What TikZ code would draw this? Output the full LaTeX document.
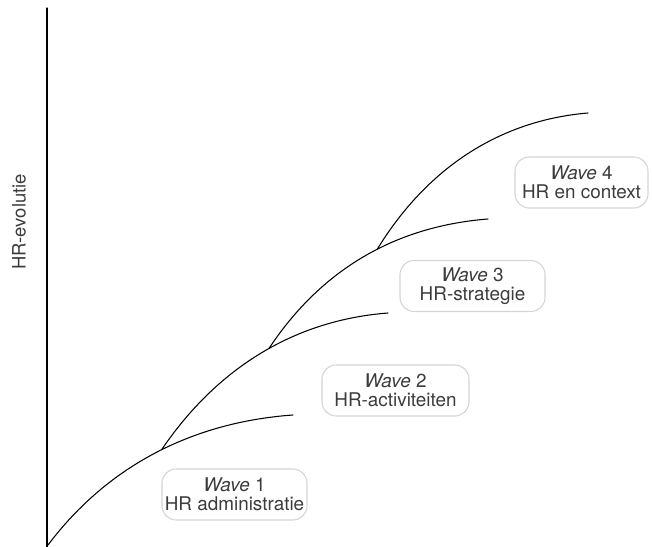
\documentclass[tikz,border=0pt]{standalone}
\usepackage{fontspec}
\setmainfont{TeX Gyre Heros}
\usetikzlibrary{positioning}
\definecolor{boxgray}{RGB}{212, 212, 212}
\definecolor{textgray}{RGB}{60, 60, 60}

\begin{document}
\begin{tikzpicture}[
    x = 0.02cm, y = 0.02cm,
    curve/.style = {line width = 0.6pt, line cap = round},
    wave/.style = {draw = boxgray, line width = 0.6pt, rounded corners = 8pt, align = center, text = textgray, inner xsep = 1pt, minimum width = 2.9cm, minimum height = 1.02cm, font = \fontsize{10.75}{10.6}\selectfont},
]
\useasboundingbox (0,0) rectangle (652,547);

% axis
\coordinate (bottom) at (47,0);
\coordinate (top) at (47,539);
\draw[curve] (bottom) -- (top);
\node[rotate = 90, text = textgray, font = \fontsize{10.5}{11.5}\selectfont] (label) at (19,325) {HR-evolutie};

% the four waves
\coordinate (s1) at (48,2);
\coordinate (e1) at (293,132);
\coordinate (e2) at (388,234);
\coordinate (e3) at (488,328);
\coordinate (e4) at (588,434);

\draw[curve] (s1) .. controls +(61,81) and +(-98,-7) .. coordinate[pos=0.52] (s2) (e1);
\draw[curve] (s2) .. controls +(57,84) and +(-91,-7) .. coordinate[pos=0.53] (s3) (e2);
\draw[curve] (s3) .. controls +(55,83) and +(-88,-7) .. coordinate[pos=0.55] (s4) (e3);
\draw[curve] (s4) .. controls +(52,85) and +(-84,-7) .. (e4);

\node[wave] (w1) at (234.5,52.5) {\textit{Wave} 1\\HR administratie};
\node[wave, minimum width = 2.94cm] (w2) at (395.5,156.5) {\textit{Wave} 2\\HR-activiteiten};
\node[wave] (w3) at (472.5,261) {\textit{Wave} 3\\HR-strategie};
\node[wave, minimum width = 2.66cm] (w4) at (581.5,364.5) {\textit{Wave} 4\\HR en context};

\end{tikzpicture}
\end{document}
